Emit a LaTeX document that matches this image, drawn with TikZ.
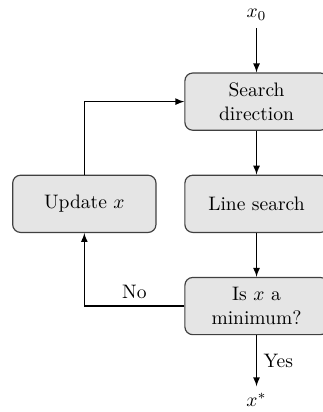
\documentclass[tikz,border=0pt]{standalone}
\usetikzlibrary{positioning}
\tikzset{
  stepbox/.style={draw=black!75,fill=black!10,rounded corners=4pt,
    minimum width=2.58cm,minimum height=1.03cm,text width=2cm,align=center}
}
\begin{document}
\begin{tikzpicture}[>=latex,semithick,node distance=0.79cm]
\useasboundingbox (0,0) rectangle (5.8,7.42);
\node[stepbox] (search) at (4.62,5.59) {Search direction};
\node[stepbox,below=of search] (linesearch) {Line search};
\node[stepbox,below=of linesearch] (test) {Is $x$ a minimum?};
\node[stepbox,left=0.5cm of linesearch] (update) {Update $x$};
\node[above=0.8cm of search] (start) {$x_0$};
\node[below=0.92cm of test] (finish) {$x^*$};
\draw[->] (start) -- (search);
\draw[->] (search) -- (linesearch);
\draw[->] (linesearch) -- (test);
\draw[->] (test) -- node[right] {Yes} (finish);
\draw[->] (test) -| node[above,pos=0.25] {No} (update);
\draw[->] (update) |- (search);
\end{tikzpicture}
\end{document}
